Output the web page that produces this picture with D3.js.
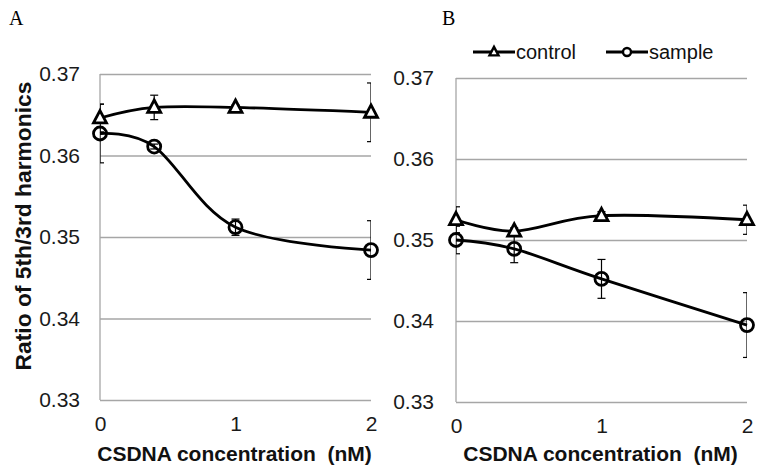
<!DOCTYPE html>
<html><head><meta charset="utf-8">
<script src="https://cdn.jsdelivr.net/npm/d3@7"></script>
<style>
body{margin:0;background:#fff;}
svg text{font-family:Arial,"Liberation Sans",sans-serif;}
</style></head>
<body><svg id="c" width="764" height="475"></svg>
<script>
const xValues = [0, 0.4, 1, 2];
const xTicks = [0, 1, 2];
const yTicks = [0.33, 0.34, 0.35, 0.36, 0.37];
const seriesNames = ["control", "sample"];
const panelNames = ["A", "B"];

const controlA = [0.3646, 0.3659, 0.3659, 0.3653];
const controlAErr = [0.0017, 0.0015, 0.0003, 0.0036];
const sampleA = [0.3627, 0.3611, 0.3512, 0.3484];
const sampleAErr = [0.0036, 0.0003, 0.0010, 0.0036];

const controlB = [0.3525, 0.3511, 0.3530, 0.3525];
const controlBErr = [0.0016, 0.0004, 0.0005, 0.0018];
const sampleB = [0.3500, 0.3489, 0.3452, 0.3395];
const sampleBErr = [0.0017, 0.0017, 0.0024, 0.0040];

const xTitle = "CSDNA concentration  (nM)";
const yTitle = "Ratio of 5th/3rd harmonics";

const svg = d3.select("#c");
const grid = "#a6a6a6";

const panels = [
  {name: panelNames[0], box: {l: 100, r: 371, t: 74, b: 400}, label: [9, 25],
   control: controlA, controlErr: controlAErr, sample: sampleA, sampleErr: sampleAErr, legend: false, yTitle: true, tickGap: 20},
  {name: panelNames[1], box: {l: 456, r: 747, t: 78, b: 402}, label: [442, 25],
   control: controlB, controlErr: controlBErr, sample: sampleB, sampleErr: sampleBErr, legend: true, yTitle: false, tickGap: 22}
];

function triPath(s) {
  const h = s * 0.95;
  return `M0,${-h*0.6}L${s/2},${h*0.4}L${-s/2},${h*0.4}Z`;
}

panels.forEach((p, pi) => {
  const g = svg.append("g");
  const x = d3.scaleLinear().domain([0, 2]).range([p.box.l, p.box.r]);
  const y = d3.scaleLinear().domain([0.33, 0.37]).range([p.box.b, p.box.t]);

  g.append("text").attr("x", p.label[0]).attr("y", p.label[1])
    .style("font-family", "'Liberation Serif','Times New Roman',serif")
    .style("font-size", "20px").attr("fill", "#000").text(p.name);

  const ya = g.append("g").attr("transform", `translate(${p.box.l},0)`)
    .call(d3.axisLeft(y).tickValues(yTicks).tickFormat(d3.format(".2f"))
      .tickSize(-(p.box.r - p.box.l)).tickPadding(p.tickGap));
  ya.select(".domain").remove();
  ya.selectAll(".tick line").attr("stroke", grid).attr("stroke-width", 1.3);
  ya.selectAll(".tick text").style("font-size", "21px").attr("fill", "#1a1a1a")
    .style("font-family", "Arial,'Liberation Sans',sans-serif");

  g.append("line").attr("x1", p.box.l).attr("x2", p.box.l)
    .attr("y1", y(0.37)).attr("y2", y(0.33)).attr("stroke", grid).attr("stroke-width", 1.3);

  const xa = g.append("g").attr("transform", `translate(0,${p.box.b})`)
    .call(d3.axisBottom(x).tickValues(xTicks).tickFormat(d3.format("d")).tickSize(0).tickPadding(16));
  xa.select(".domain").remove();
  xa.selectAll(".tick text").style("font-size", "21px").attr("fill", "#1a1a1a")
    .style("font-family", "Arial,'Liberation Sans',sans-serif");

  g.append("text").attr("x", (p.box.l + p.box.r) / 2 - 1).attr("y", 461)
    .attr("text-anchor", "middle").style("font-size", "21px").style("font-weight", "bold")
    .style("white-space", "pre").attr("fill", "#111").text(xTitle);

  if (p.yTitle) {
    g.append("text").attr("transform", `translate(31,226) rotate(-90)`)
      .attr("text-anchor", "middle").style("font-size", "22.8px").style("font-weight", "bold")
      .attr("fill", "#111").text(yTitle);
  }

  const cid = "clip" + pi;
  svg.append("clipPath").attr("id", cid).append("rect")
    .attr("x", p.box.l).attr("y", 0).attr("width", p.box.r - p.box.l).attr("height", 475);

  const line = d3.line().x(d => x(d[0])).y(d => y(d[1])).curve(d3.curveCardinal.tension(0));

  const series = [
    {key: seriesNames[0], vals: p.control, err: p.controlErr},
    {key: seriesNames[1], vals: p.sample, err: p.sampleErr}
  ];

  series.forEach(s => {
    const eg = g.append("g").attr("clip-path", `url(#${cid})`);
    s.vals.forEach((v, i) => {
      const cx = x(xValues[i]);
      const y1 = y(v + s.err[i]), y2 = y(v - s.err[i]);
      eg.append("line").attr("x1", cx).attr("x2", cx).attr("y1", y1).attr("y2", y2)
        .attr("stroke", "#000").attr("stroke-width", 1.2);
      [y1, y2].forEach(yy => eg.append("line").attr("x1", cx - 4).attr("x2", cx + 4)
        .attr("y1", yy).attr("y2", yy).attr("stroke", "#000").attr("stroke-width", 1.2));
    });
  });

  series.forEach(s => {
    g.append("path").datum(s.vals.map((v, i) => [xValues[i], v]))
      .attr("d", line).attr("fill", "none").attr("stroke", "#000").attr("stroke-width", 2.8);
  });

  series.forEach(s => {
    s.vals.forEach((v, i) => {
      const cx = x(xValues[i]), cy = y(v);
      if (s.key === "control") {
        g.append("path").attr("d", triPath(13)).attr("transform", `translate(${cx},${cy})`)
          .attr("fill", "#fff").attr("stroke", "#000").attr("stroke-width", 2.8).attr("stroke-linejoin", "miter");
      } else {
        g.append("circle").attr("cx", cx).attr("cy", cy).attr("r", 6.5)
          .attr("fill", "none").attr("stroke", "#000").attr("stroke-width", 2.8);
      }
    });
  });

  if (p.legend) {
    const items = [{key: seriesNames[0], x0: 473}, {key: seriesNames[1], x0: 606}];
    items.forEach(it => {
      const lg = g.append("g");
      const ly = 52;
      lg.append("line").attr("x1", it.x0).attr("x2", it.x0 + 42).attr("y1", ly).attr("y2", ly)
        .attr("stroke", "#000").attr("stroke-width", 2.8);
      if (it.key === "control") {
        lg.append("path").attr("d", triPath(9)).attr("transform", `translate(${it.x0 + 21},${ly})`)
          .attr("fill", "#fff").attr("stroke", "#000").attr("stroke-width", 2.4);
      } else {
        lg.append("circle").attr("cx", it.x0 + 21).attr("cy", ly).attr("r", 4)
          .attr("fill", "#fff").attr("stroke", "#000").attr("stroke-width", 2.4);
      }
      lg.append("text").attr("x", it.x0 + 43).attr("y", ly + 7).style("font-size", "20px")
        .attr("fill", "#111").text(it.key);
    });
  }
});
</script></body></html>
